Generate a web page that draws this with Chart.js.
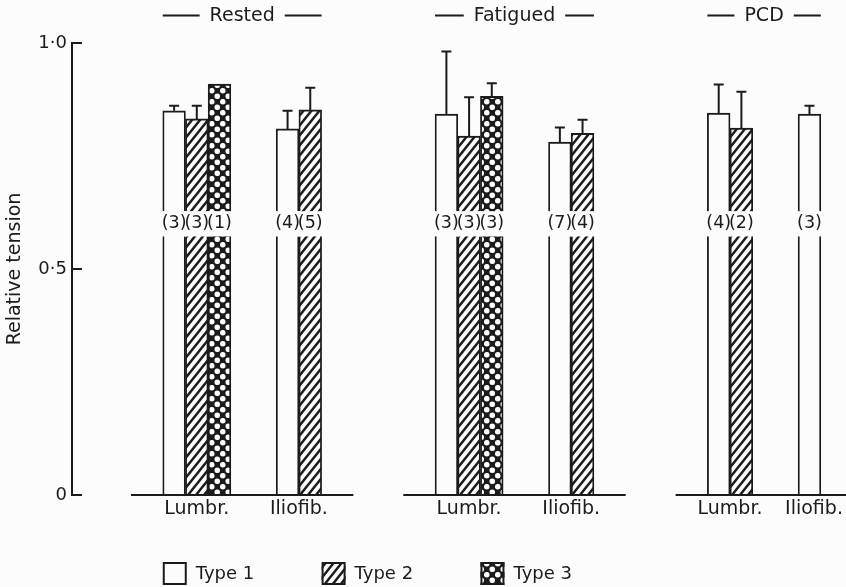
<!DOCTYPE html>
<html>
<head>
<meta charset="utf-8">
<script src="https://cdn.jsdelivr.net/npm/chart.js@4/dist/chart.umd.min.js"></script>
<style>
  html, body { margin: 0; padding: 0; background: #fcfcfc; }
  canvas { display: block; }
</style>
</head>
<body>
<canvas id="chart" width="846" height="587"></canvas>
<script>
// ---- data -------------------------------------------------------------
const conditions = ['Rested', 'Fatigued', 'PCD'];
const muscles = ['Lumbr.', 'Iliofib.'];
const fibreTypes = ['Type 1', 'Type 2', 'Type 3'];

// one entry per condition × muscle, in the order:
// Rested Lumbr., Rested Iliofib., Fatigued Lumbr., Fatigued Iliofib., PCD Lumbr., PCD Iliofib.
const type1Mean = [0.85, 0.81, 0.843, 0.781, 0.845, 0.843];
const type1SE   = [0.011, 0.040, 0.138, 0.032, 0.063, 0.018];
const type1N    = [3, 4, 3, 7, 4, 3];

const type2Mean = [0.832, 0.852, 0.794, 0.80, 0.812, null];
const type2SE   = [0.029, 0.049, 0.086, 0.030, 0.080, null];
const type2N    = [3, 5, 3, 4, 2, null];

const type3Mean = [0.909, null, 0.882, null, null, null];
const type3SE   = [null, null, 0.029, null, null, null];
const type3N    = [1, null, 3, null, null, null];

const yTicks = [0, 0.5, 1.0];

// ---- layout (x scale runs in bar-width slots) ----------------------------
const SLOTS = 34;
const clusterSlot = [4, 9, 16, 21, 28, 32];      // first bar of each cluster
const labelSlot = [5.5, 10, 17.5, 22, 29, 32.7];  // muscle label positions
const legendSlot = [4, 11, 18];
const baseMargin = 1.4;   // baseline overhang beyond the outer bars, in slots
const countAt = 0.6;      // height of the (n) labels on the value axis

const INK = '#1b1b1b';
const PAPER = '#fcfcfc';
const FONT = "'DejaVu Sans', 'Liberation Sans', sans-serif";

const canvas = document.getElementById('chart');
const ctx = canvas.getContext('2d');

// diagonal hatching, rising to the right
function hatchFill() {
  const w = 8, h = 10;
  const c = document.createElement('canvas');
  c.width = w; c.height = h;
  const g = c.getContext('2d');
  g.fillStyle = PAPER; g.fillRect(0, 0, w, h);
  g.strokeStyle = INK; g.lineWidth = 2.4;
  g.beginPath();
  for (let k = -1; k <= 1; k++) {
    g.moveTo(k * w - 2, h + 2.5);
    g.lineTo(k * w + w + 2, -2.5);
  }
  g.stroke();
  return ctx.createPattern(c, 'repeat');
}

// dark fill with a lattice of light dots
function dottedFill() {
  const s = 11;
  const c = document.createElement('canvas');
  c.width = s; c.height = s;
  const g = c.getContext('2d');
  g.fillStyle = INK; g.fillRect(0, 0, s, s);
  g.fillStyle = PAPER;
  [[s / 4, s / 4], [3 * s / 4, 3 * s / 4]].forEach(([cx, cy]) => {
    g.beginPath(); g.arc(cx, cy, 2.8, 0, Math.PI * 2); g.fill();
  });
  return ctx.createPattern(c, 'repeat');
}

const fills = [PAPER, hatchFill(), dottedFill()];
const means = [type1Mean, type2Mean, type3Mean];
const ses = [type1SE, type2SE, type3SE];
const ns = [type1N, type2N, type3N];

const datasets = fibreTypes.map((label, t) => ({
  label,
  data: means[t]
    .map((m, c) => m == null ? null : { x: clusterSlot[c] + t + 0.5, y: m, se: ses[t][c], n: ns[t][c], c })
    .filter(Boolean),
  backgroundColor: fills[t],
  borderColor: INK,
  borderWidth: { top: 2, left: 1.8, right: 1.8, bottom: 0 },
  borderSkipped: 'bottom',
  barPercentage: 1,
  categoryPercentage: 1
}));

// ---- annotations: axis line, baselines, headers, error bars, counts, legend
const decor = {
  id: 'decor',
  beforeDraw(chart) {
    const c = chart.ctx;
    c.save();
    c.fillStyle = PAPER;
    c.fillRect(0, 0, chart.width, chart.height);
    c.restore();
  },
  afterDatasetsDraw(chart) {
    const c = chart.ctx;
    const { x, y } = chart.scales;
    const area = chart.chartArea;
    const bars = [];
    chart.data.datasets.forEach((ds, di) => {
      const meta = chart.getDatasetMeta(di);
      ds.data.forEach((p, i) => bars.push({ p, el: meta.data[i], t: di }));
    });

    c.save();
    c.strokeStyle = INK;
    c.fillStyle = INK;
    c.lineCap = 'butt';

    // value axis with inward tick marks
    c.lineWidth = 2;
    const ax = area.left;
    c.beginPath();
    c.moveTo(ax, y.getPixelForValue(1) - 1);
    c.lineTo(ax, y.getPixelForValue(0) + 1);
    yTicks.forEach(v => {
      const py = y.getPixelForValue(v);
      c.moveTo(ax - 1, py);
      c.lineTo(ax + 10, py);
    });
    c.stroke();

    // error bars (mean + SE)
    c.lineWidth = 2;
    bars.forEach(({ p, el }) => {
      if (!p.se) return;
      const top = y.getPixelForValue(p.y + p.se);
      const base = y.getPixelForValue(p.y);
      c.beginPath();
      c.moveTo(el.x, base);
      c.lineTo(el.x, top);
      c.moveTo(el.x - 5, top);
      c.lineTo(el.x + 5, top);
      c.stroke();
    });

    // sample sizes, set into a clear band across the bars
    const bandTop = y.getPixelForValue(countAt + 0.028);
    const bandBot = y.getPixelForValue(countAt - 0.028);
    c.fillStyle = PAPER;
    bars.forEach(({ el }) => {
      c.fillRect(el.x - el.width / 2 - 1.5, bandTop, el.width + 3, bandBot - bandTop);
    });
    c.fillStyle = INK;
    c.font = `17.5px ${FONT}`;
    c.textAlign = 'center';
    c.textBaseline = 'middle';
    bars.forEach(({ p, el }) => {
      c.fillText(`(${p.n})`, el.x, y.getPixelForValue(countAt));
    });

    // per-condition baseline and header
    const y0 = y.getPixelForValue(0);
    conditions.forEach((name, g) => {
      const own = bars.filter(b => Math.floor(b.p.c / 2) === g);
      const lo = Math.min(...own.map(b => b.p.x - 0.5));
      const hi = Math.max(...own.map(b => b.p.x + 0.5));
      c.lineWidth = 2;
      c.beginPath();
      c.moveTo(x.getPixelForValue(lo - baseMargin), y0);
      c.lineTo(Math.min(chart.width, x.getPixelForValue(hi + baseMargin)), y0);
      c.stroke();

      const left = x.getPixelForValue(lo);
      const right = x.getPixelForValue(hi);
      const mid = (left + right) / 2;
      c.font = `19px ${FONT}`;
      const w = c.measureText(name).width;
      c.fillText(name, mid, 16);
      c.lineWidth = 1.8;
      c.beginPath();
      c.moveTo(left, 15.5);
      c.lineTo(mid - w / 2 - 10, 15.5);
      c.moveTo(mid + w / 2 + 10, 15.5);
      c.lineTo(right, 15.5);
      c.stroke();
    });

    // legend
    c.font = `18px ${FONT}`;
    c.textAlign = 'left';
    fibreTypes.forEach((name, t) => {
      const bx = x.getPixelForValue(legendSlot[t]);
      const by = 562;
      c.fillStyle = fills[t];
      c.fillRect(bx, by, 24, 23);
      c.lineWidth = 2;
      c.strokeRect(bx + 1, by + 1, 22, 21);
      c.fillStyle = INK;
      c.fillText(name, bx + 33, by + 12);
    });
    c.restore();
  }
};

new Chart(ctx, {
  type: 'bar',
  data: { datasets },
  options: {
    responsive: false,
    animation: false,
    devicePixelRatio: 1,
    layout: { padding: { top: 43, right: 1.7, bottom: 62, left: 0 } },
    plugins: { legend: { display: false }, tooltip: { enabled: false } },
    scales: {
      x: {
        type: 'linear',
        min: 0,
        max: SLOTS,
        offset: false,
        stacked: true,
        grid: { display: false, drawTicks: false },
        border: { display: false },
        afterBuildTicks: s => { s.ticks = labelSlot.map(v => ({ value: v })); },
        afterFit: s => { s.height = 30; },
        ticks: {
          autoSkip: false,
          maxRotation: 0,
          padding: 3,
          color: INK,
          font: { family: FONT, size: 19 },
          callback: (v, i) => muscles[i % muscles.length]
        }
      },
      y: {
        min: 0,
        max: 1,
        grid: { display: false, drawTicks: false },
        border: { display: false },
        afterBuildTicks: s => { s.ticks = yTicks.map(v => ({ value: v })); },
        afterFit: s => { s.width = 72; },
        ticks: {
          padding: 5,
          color: INK,
          font: { family: FONT, size: 18 },
          callback: v => v === 0 ? '0' : v.toFixed(1).replace('.', '\u00b7')
        },
        title: {
          display: true,
          text: 'Relative tension',
          color: INK,
          font: { family: FONT, size: 19 }
        }
      }
    }
  },
  plugins: [decor]
});
</script>
</body>
</html>
